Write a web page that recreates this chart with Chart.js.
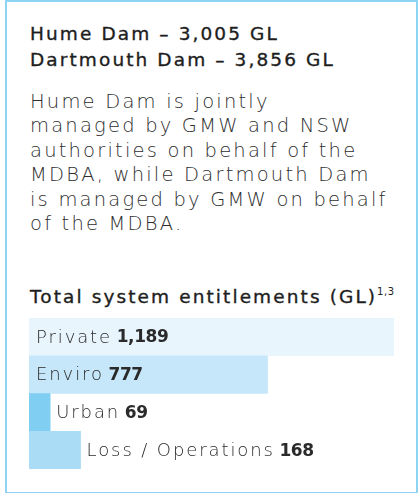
<!DOCTYPE html>
<html lang="en">

<head>
  <meta charset="UTF-8">
  <meta name="viewport" content="width=device-width, initial-scale=1.0">
  <script src="https://cdn.jsdelivr.net/npm/chart.js"></script>
  <title>Hume and Dartmouth Dams | Entitlements</title>
  <style>
    html, body {
      margin: 0;
      padding: 0;
      background: #ffffff;
      width: 418px;
      height: 494px;
      overflow: hidden;
      font-family: "DejaVu Sans", sans-serif;
      color: #222222;
    }

    .card {
      position: absolute;
      left: 5px;
      top: 0px;
      width: 409px;
      height: 490px;
      border: 2px solid #8ed3f4;
      border-bottom-width: 1px;
    }

    .dams {
      position: absolute;
      left: 30px;
      top: 21px;
      font-size: 18.5px;
      font-weight: 400;
      letter-spacing: 2.1px;
      -webkit-text-stroke: 0.35px #1e1e1e;
      color: #1e1e1e;
      line-height: 26px;
      white-space: nowrap;
    }

    .desc {
      position: absolute;
      left: 30px;
      top: 90px;
      margin: 0;
      font-size: 19.5px;
      font-weight: 200;
      letter-spacing: 2.2px;
      line-height: 24.4px;
      color: #2e2e2e;
      white-space: nowrap;
    }

    .head {
      position: absolute;
      left: 30px;
      top: 284px;
      font-size: 18.5px;
      font-weight: 400;
      letter-spacing: 2.1px;
      -webkit-text-stroke: 0.35px #1e1e1e;
      color: #1e1e1e;
      line-height: 25px;
      white-space: nowrap;
    }

    .head sup {
      font-size: 10px;
      letter-spacing: 0.5px;
      -webkit-text-stroke: 0;
      vertical-align: 8px;
      line-height: 0;
    }

    .chartBox {
      position: absolute;
      left: 29px;
      top: 318px;
      width: 365px;
      height: 151px;
    }
  </style>
</head>

<body>
  <div class="card"></div>

  <div class="dams">Hume Dam – 3,005 GL<br>Dartmouth Dam – 3,856 GL</div>

  <p class="desc">Hume Dam is jointly<br>managed by GMW and NSW<br>authorities on behalf of the<br>MDBA, while Dartmouth Dam<br>is managed by GMW on behalf<br>of the MDBA.</p>

  <div class="head">Total system entitlements (GL)<sup>1,3</sup></div>

  <div class="chartBox">
    <canvas id="entitlementChart"></canvas>
  </div>

  <script>
    // data
    var categorias = ['Private', 'Enviro', 'Urban', 'Loss / Operations'];
    var volumes = [1189, 777, 69, 168];
    var rotulosValor = ['1,189', '777', '69', '168'];

    var coresBarras = ['#e8f5fd', '#c6e7f9', '#80cff3', '#abdcf5'];

    // writes "Name value" next to each bar, inside when it fits
    var rotulosPlugin = {
      id: 'rotulos',
      afterDatasetsDraw: function (chart) {
        var ctx = chart.ctx;
        var meta = chart.getDatasetMeta(0);
        var fonteNome = '200 18px "DejaVu Sans"';
        var fonteValor = '700 17px "DejaVu Sans"';

        ctx.save();
        ctx.textBaseline = 'middle';
        ctx.fillStyle = '#2a2a2a';

        for (var index = 0; index < meta.data.length; index++) {
          var barra = meta.data[index];
          var nome = categorias[index] + ' ';
          var valor = rotulosValor[index];

          ctx.font = fonteNome;
          ctx.letterSpacing = '1.9px';
          var larguraNome = ctx.measureText(nome).width;
          ctx.font = fonteValor;
          ctx.letterSpacing = '-0.4px';
          var larguraValor = ctx.measureText(valor).width;

          var larguraBarra = barra.x - barra.base;
          var x = barra.base + 7;
          if (larguraBarra < larguraNome + larguraValor + 14) {
            x = barra.x + 6;
          }
          var y = barra.y + 1;

          ctx.font = fonteNome;
          ctx.letterSpacing = '1.9px';
          ctx.fillText(nome, x, y);
          ctx.font = fonteValor;
          ctx.letterSpacing = '-0.4px';
          ctx.fillText(valor, x + larguraNome - 3, y);
        }
        ctx.restore();
      }
    };

    function desenharGrafico() {
      var ctx = document.getElementById('entitlementChart').getContext('2d');
      var grafico = new Chart(ctx, {
        type: 'bar',
        data: {
          labels: categorias,
          datasets: [{
            label: 'Total system entitlements (GL)',
            data: volumes,
            backgroundColor: coresBarras,
            borderWidth: 0,
            barPercentage: 1,
            categoryPercentage: 1
          }]
        },
        options: {
          indexAxis: 'y',
          responsive: true,
          maintainAspectRatio: false,
          animation: false,
          layout: { padding: 0 },
          plugins: {
            legend: { display: false },
            tooltip: { enabled: false }
          },
          scales: {
            x: {
              display: false,
              min: 0,
              max: Math.max.apply(null, volumes)
            },
            y: {
              display: false
            }
          }
        },
        plugins: [rotulosPlugin]
      });
    }

    window.onload = function () {
      desenharGrafico();
    };
  </script>

</body>

</html>
